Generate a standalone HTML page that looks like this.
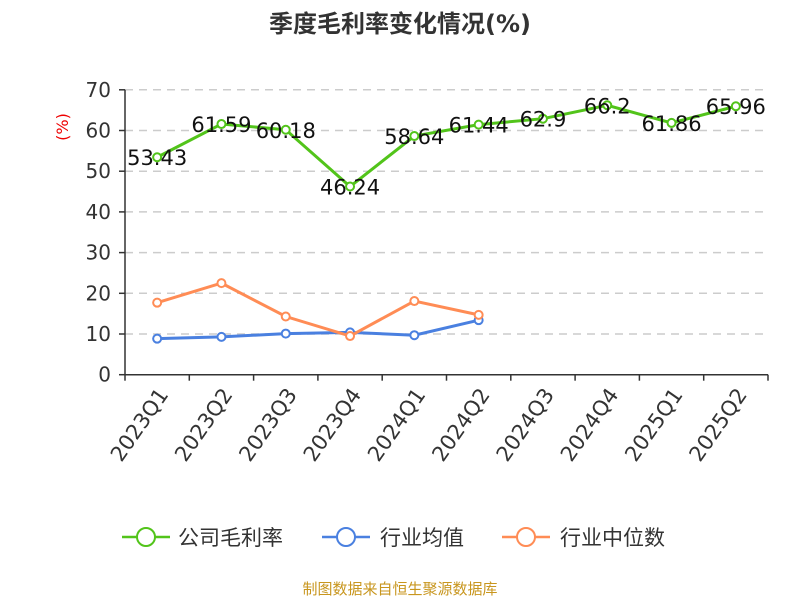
<!DOCTYPE html>
<html><head><meta charset="utf-8"><style>
body{margin:0;background:#fff;width:800px;height:600px;overflow:hidden;font-family:"DejaVu Sans","Noto Sans CJK SC",sans-serif}
</style></head><body>
<svg id="c" width="800" height="600" xmlns="http://www.w3.org/2000/svg" font-family="DejaVu Sans, Noto Sans CJK SC, sans-serif">
<text x="400" y="32" text-anchor="middle" font-size="24" font-weight="bold" fill="#333">季度毛利率变化情况(%)</text>
<text x="68" y="127" text-anchor="middle" font-size="16" fill="#e00" transform="rotate(-90 68 127)">(%)</text>
<g id="grid"></g><g id="axes"></g><g id="series"></g>
<g font-size="21" fill="#333">
<g><line x1="122" y1="537" x2="170" y2="537" stroke="#52c41a" stroke-width="2.5"/><circle cx="146" cy="537" r="9" fill="#fff" stroke="#52c41a" stroke-width="2"/><text x="178" y="545">公司毛利率</text></g>
<g><line x1="322" y1="537" x2="370" y2="537" stroke="#4a80e0" stroke-width="2.5"/><circle cx="346" cy="537" r="9" fill="#fff" stroke="#4a80e0" stroke-width="2"/><text x="380" y="545">行业均值</text></g>
<g><line x1="502" y1="537" x2="550" y2="537" stroke="#ff8c55" stroke-width="2.5"/><circle cx="526" cy="537" r="9" fill="#fff" stroke="#ff8c55" stroke-width="2"/><text x="560" y="545">行业中位数</text></g>
</g>
<text x="400" y="594" text-anchor="middle" font-size="15" fill="#c8961e">制图数据来自恒生聚源数据库</text>
</svg>
<script>
const categories=["2023Q1","2023Q2","2023Q3","2023Q4","2024Q1","2024Q2","2024Q3","2024Q4","2025Q1","2025Q2"];
const grossMargin=[53.43,61.59,60.18,46.24,58.64,61.44,62.9,66.2,61.86,65.96];
const industryAvg=[8.85,9.3,10.1,10.4,9.7,13.4];
const industryMedian=[17.7,22.5,14.3,9.5,18.1,14.7];
const yTicks=[0,10,20,30,40,50,60,70];
const NS="http://www.w3.org/2000/svg";
const x0=125,x1=768,y0=374.7,yTop=89.8,yMax=70;
const bw=(x1-x0)/categories.length;
const X=i=>x0+bw*(i+0.5);
const Y=v=>y0-(v/yMax)*(y0-yTop);
function mk(tag,attrs,parent){const e=document.createElementNS(NS,tag);for(const k in attrs)e.setAttribute(k,attrs[k]);parent.appendChild(e);return e;}
const grid=document.getElementById('grid'),axes=document.getElementById('axes'),series=document.getElementById('series');
yTicks.forEach(t=>{
  if(t>0){const g=mk('line',{x1:x0,x2:x1,y1:Y(t),y2:Y(t),stroke:'#ccc','stroke-width':1.5,'stroke-dasharray':'8,6'},grid);
  
  }
  const tk=mk('line',{x1:x0-6,x2:x0,y1:Y(t),y2:Y(t),stroke:'#333','stroke-width':1.5},axes);
  
  
  const l=mk('text',{x:x0-14,y:Y(t)+7,'text-anchor':'end','font-size':20,fill:'#333'},axes);l.textContent=t;
  
  
});
const ya=mk('line',{x1:x0,x2:x0,y1:yTop,y2:y0,stroke:'#333','stroke-width':1.5},axes);


const xa=mk('line',{x1:x0,x2:x1,y1:y0,y2:y0,stroke:'#333','stroke-width':1.5},axes);


for(let i=0;i<=categories.length;i++){const t=mk('line',{x1:x0+bw*i,x2:x0+bw*i,y1:y0,y2:y0+6,stroke:'#333','stroke-width':1.5},axes);
  
  }
categories.forEach((c,i)=>{const x=X(i)+12,y=y0+20;
  const l=mk('text',{x:x,y:y,'text-anchor':'end','font-size':21,fill:'#333',transform:`rotate(-55 ${x} ${y})`},axes);l.textContent=c;
  
  });
function draw(vals,color,name,labels){
  const g=mk('g',{},series);
  
  
  const p=mk('polyline',{points:vals.map((v,i)=>X(i)+','+Y(v)).join(' '),fill:'none',stroke:color,'stroke-width':3},g);
  
  
  vals.forEach((v,i)=>{const c=mk('circle',{cx:X(i),cy:Y(v),r:4,fill:'#fff',stroke:color,'stroke-width':2},g);
    
    
    if(labels){const t=mk('text',{x:X(i),y:Y(v)+8,'text-anchor':'middle','font-size':21,fill:'#111'},g);t.textContent=v;
      
      }
  });
}
draw(industryAvg,'#4a80e0','industry-average',false);
draw(industryMedian,'#ff8c55','industry-median',false);
draw(grossMargin,'#52c41a','gross-margin',true);
</script>
</body></html>
